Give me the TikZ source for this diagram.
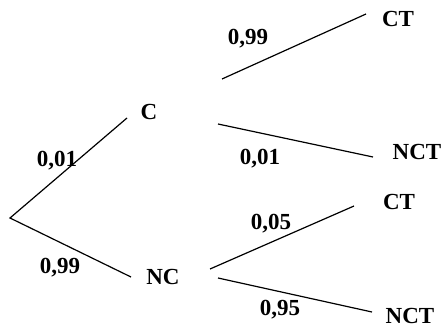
\documentclass[tikz,border=0pt]{standalone}
\usepackage{fontspec}
\setmainfont{Liberation Serif}
\begin{document}
\begin{tikzpicture}[x=1pt,y=1pt,
  lbl/.style={anchor=base,inner sep=0pt,font=\fontsize{23}{23}\selectfont\bfseries},
  branch/.style={line width=1.2pt}]
\useasboundingbox (0,0) rectangle (444,327);
% coordinates of line ends
\coordinate (R) at (10,109);
\coordinate (Ce) at (127,209);
\coordinate (NCe) at (131,50);
\coordinate (C1s) at (222,248);
\coordinate (C1e) at (366,313);
\coordinate (C2s) at (218,203);
\coordinate (C2e) at (373,170);
\coordinate (N1s) at (210,58);
\coordinate (N1e) at (354,121);
\coordinate (N2s) at (218,49);
\coordinate (N2e) at (372,15);
% labels
\node[lbl] (C) at (149,207) {C};
\node[lbl] (NC) at (163,42.5) {NC};
\node[lbl] (CT1) at (398,300.3) {CT};
\node[lbl] (NCT1) at (417,167.5) {NCT};
\node[lbl] (CT2) at (399,117.5) {CT};
\node[lbl] (NCT2) at (410,3.5) {NCT};
\node[lbl] (p1) at (57,160.5) {0,01};
\node[lbl] (p2) at (60,53.5) {0,99};
\node[lbl] (p3) at (248,282) {0,99};
\node[lbl] (p4) at (260,162.5) {0,01};
\node[lbl] (p5) at (271,97.5) {0,05};
\node[lbl] (p6) at (280,11.5) {0,95};
% branches
\draw[branch] (Ce) -- (R) -- (NCe);
\draw[branch] (C1s) -- (C1e);
\draw[branch] (C2s) -- (C2e);
\draw[branch] (N1s) -- (N1e);
\draw[branch] (N2s) -- (N2e);
\end{tikzpicture}
\end{document}
